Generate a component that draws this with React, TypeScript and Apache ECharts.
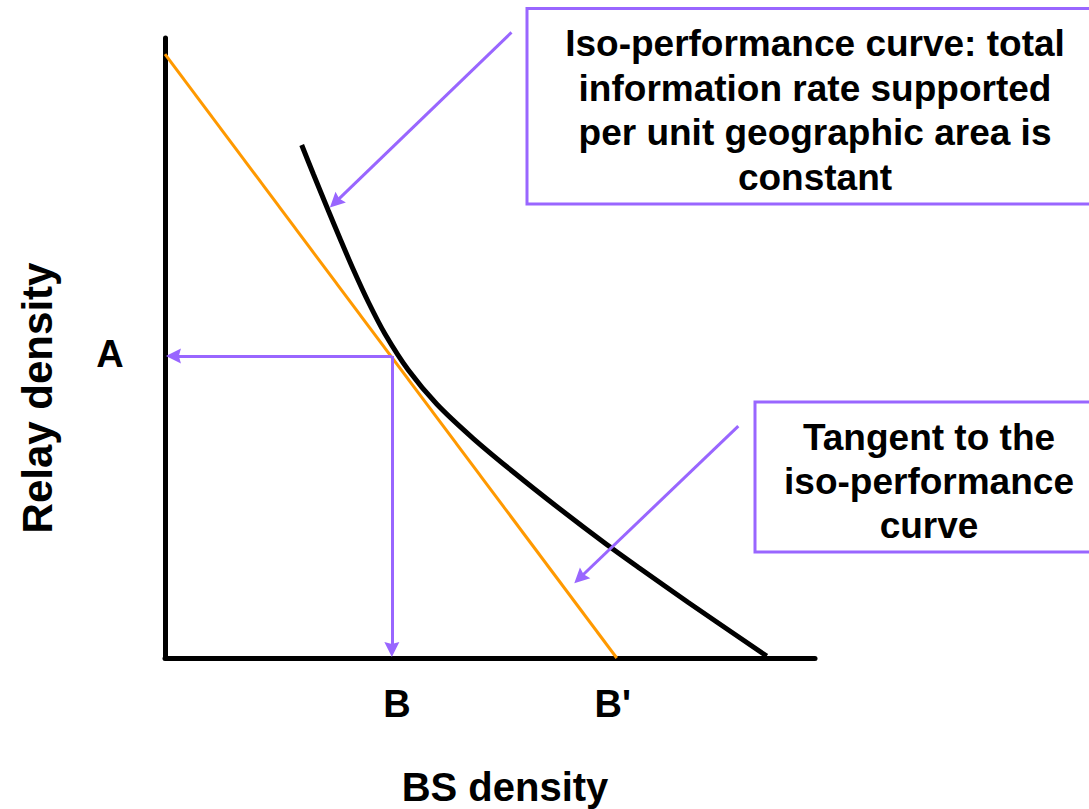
import React, { useEffect, useRef } from "react";
import * as echarts from "echarts";

// Iso-performance curve: BS density (x) vs relay density (y), arbitrary units 0-10
const isoCurveBS = [2.103, 2.282, 2.512, 2.692, 2.897, 3.128, 3.385, 3.743, 4.18, 4.743, 5.358, 6.026, 6.795, 7.308, 8.051, 9.257];
const isoCurveRelay = [8.274, 7.806, 7.218, 6.766, 6.266, 5.742, 5.226, 4.645, 4.097, 3.54, 3.0, 2.444, 1.831, 1.444, 0.895, 0.03];

// Tangent line end points
const tangentBS = [0, 6.95];
const tangentRelay = [9.74, 0];

// Operating point and intercept
const operatingBS = 3.49; // B
const operatingRelay = 4.87; // A
const interceptBS = 6.95; // B'

const tickLabels = ["A", "B", "B'"];
const axisTitles = ["BS density", "Relay density"];

const isoCalloutLines = [
  "Iso-performance curve: total",
  "information rate supported",
  "per unit geographic area is",
  "constant",
];
const tangentCalloutLines = ["Tangent to the", "iso-performance", "curve"];

// Callout arrows: [start, end] in data units
const isoArrowBS = [5.33, 2.62];
const isoArrowRelay = [10.09, 7.35];
const tangentArrowBS = [8.82, 6.38];
const tangentArrowRelay = [3.74, 1.29];
// guide arrow ends (stop at the axes)
const guideEndBS = 0.13;
const guideEndRelay = 0.137;

const PURPLE = "#9966ff";
const FONT = "'Liberation Sans', Arial, Helvetica, sans-serif";
const ARROW = "path://M5,0 L10,10 L5,8.6 L0,10 Z";

export default function App() {
  const ref = useRef<HTMLDivElement>(null);

  useEffect(() => {
    document.body.style.margin = "0";
    if (!ref.current) return;
    const chart = echarts.init(ref.current, null, { renderer: "svg" });

    const curveData = isoCurveBS.map((x, i) => [x, isoCurveRelay[i]]);
    const tangentData = tangentBS.map((x, i) => [x, tangentRelay[i]]);

    const textStyleBase = {
      fontFamily: FONT,
      fontWeight: "bold" as const,
      fill: "#000",
    };

    const option: any = {
      animation: false,
      backgroundColor: "#fff",
      grid: { left: 165, right: 274, top: 38, bottom: 151, containLabel: false },
      xAxis: {
        type: "value",
        min: 0,
        max: 10,
        axisLine: { show: true, onZero: false, lineStyle: { color: "#000", width: 5 } },
        axisTick: { show: false },
        axisLabel: { show: false },
        splitLine: { show: false },
      },
      yAxis: {
        type: "value",
        min: 0,
        max: 10,
        axisLine: { show: true, onZero: false, lineStyle: { color: "#000", width: 5 } },
        axisTick: { show: false },
        axisLabel: { show: false },
        splitLine: { show: false },
      },
      series: [
        {
          name: "Tangent",
          type: "line",
          data: tangentData,
          showSymbol: false,
          lineStyle: { color: "#ff9900", width: 3 },
          z: 2,
          clip: false,
        },
        {
          name: "Iso-performance curve",
          type: "line",
          data: curveData,
          smooth: 0.3,
          showSymbol: false,
          lineStyle: { color: "#000", width: 5 },
          z: 3,
          clip: false,
        },
        {
          name: "Guides",
          type: "lines",
          coordinateSystem: "cartesian2d",
          clip: false,
          symbol: ["none", ARROW],
          symbolSize: 15,
          lineStyle: { color: PURPLE, width: 3, opacity: 1 },
          z: 4,
          data: [
            { coords: [[operatingBS, operatingRelay], [guideEndBS, operatingRelay]] },
            { coords: [[operatingBS, operatingRelay], [operatingBS, guideEndRelay]] },
            { coords: [[isoArrowBS[0], isoArrowRelay[0]], [isoArrowBS[1], isoArrowRelay[1]]] },
            {
              coords: [
                [tangentArrowBS[0], tangentArrowRelay[0]],
                [tangentArrowBS[1], tangentArrowRelay[1]],
              ],
            },
          ],
        },
      ],
      graphic: [
        {
          id: "box1",
          type: "rect",
          shape: { x: 527, y: 8.5, width: 600, height: 195.5 },
          style: { fill: "rgba(0,0,0,0)", stroke: PURPLE, lineWidth: 3 },
          z: 10,
        },
        {
          id: "box2",
          type: "rect",
          shape: { x: 755, y: 402, width: 600, height: 150 },
          style: { fill: "rgba(0,0,0,0)", stroke: PURPLE, lineWidth: 3 },
          z: 10,
        },
        {
          id: "isoText",
          type: "text",
          x: 815,
          y: 110.5,
          z: 11,
          style: {
            ...textStyleBase,
            text: isoCalloutLines.join("\n"),
            fontSize: 37,
            lineHeight: 44.5,
            align: "center",
            verticalAlign: "middle",
          },
        },
        {
          id: "tanText",
          type: "text",
          x: 929,
          y: 481,
          z: 11,
          style: {
            ...textStyleBase,
            text: tangentCalloutLines.join("\n"),
            fontSize: 37,
            lineHeight: 44,
            align: "center",
            verticalAlign: "middle",
          },
        },
        {
          id: "xTitle",
          type: "text",
          x: 505,
          y: 787,
          z: 11,
          style: {
            ...textStyleBase,
            text: axisTitles[0],
            fontSize: 40,
            align: "center",
            verticalAlign: "middle",
          },
        },
        {
          id: "yTitle",
          type: "text",
          x: 37,
          y: 398,
          rotation: Math.PI / 2,
          z: 11,
          style: {
            ...textStyleBase,
            text: axisTitles[1],
            fontSize: 42,
            align: "center",
            verticalAlign: "middle",
          },
        },
      ],
    };

    chart.setOption(option);

    // Tick letters placed at data positions on the axes
    const pA = chart.convertToPixel({ gridIndex: 0 }, [0, operatingRelay]) as number[];
    const pB = chart.convertToPixel({ gridIndex: 0 }, [operatingBS, 0]) as number[];
    const pB2 = chart.convertToPixel({ gridIndex: 0 }, [interceptBS, 0]) as number[];
    const tickStyle = { ...textStyleBase, fontSize: 38, align: "center", verticalAlign: "middle" };
    chart.setOption({
      graphic: [
        { id: "tickA", type: "text", x: pA[0] - 55, y: pA[1] - 2, z: 11, style: { ...tickStyle, text: tickLabels[0] } },
        { id: "tickB", type: "text", x: pB[0] + 5, y: pB[1] + 46, z: 11, style: { ...tickStyle, text: tickLabels[1] } },
        { id: "tickB2", type: "text", x: pB2[0] - 4, y: pB2[1] + 46, z: 11, style: { ...tickStyle, text: tickLabels[2] } },
      ],
    });

    return () => chart.dispose();
  }, []);

  return (
    <div
      ref={ref}
      style={{ position: "absolute", left: 0, top: 0, width: 1089, height: 809 }}
    />
  );
}
